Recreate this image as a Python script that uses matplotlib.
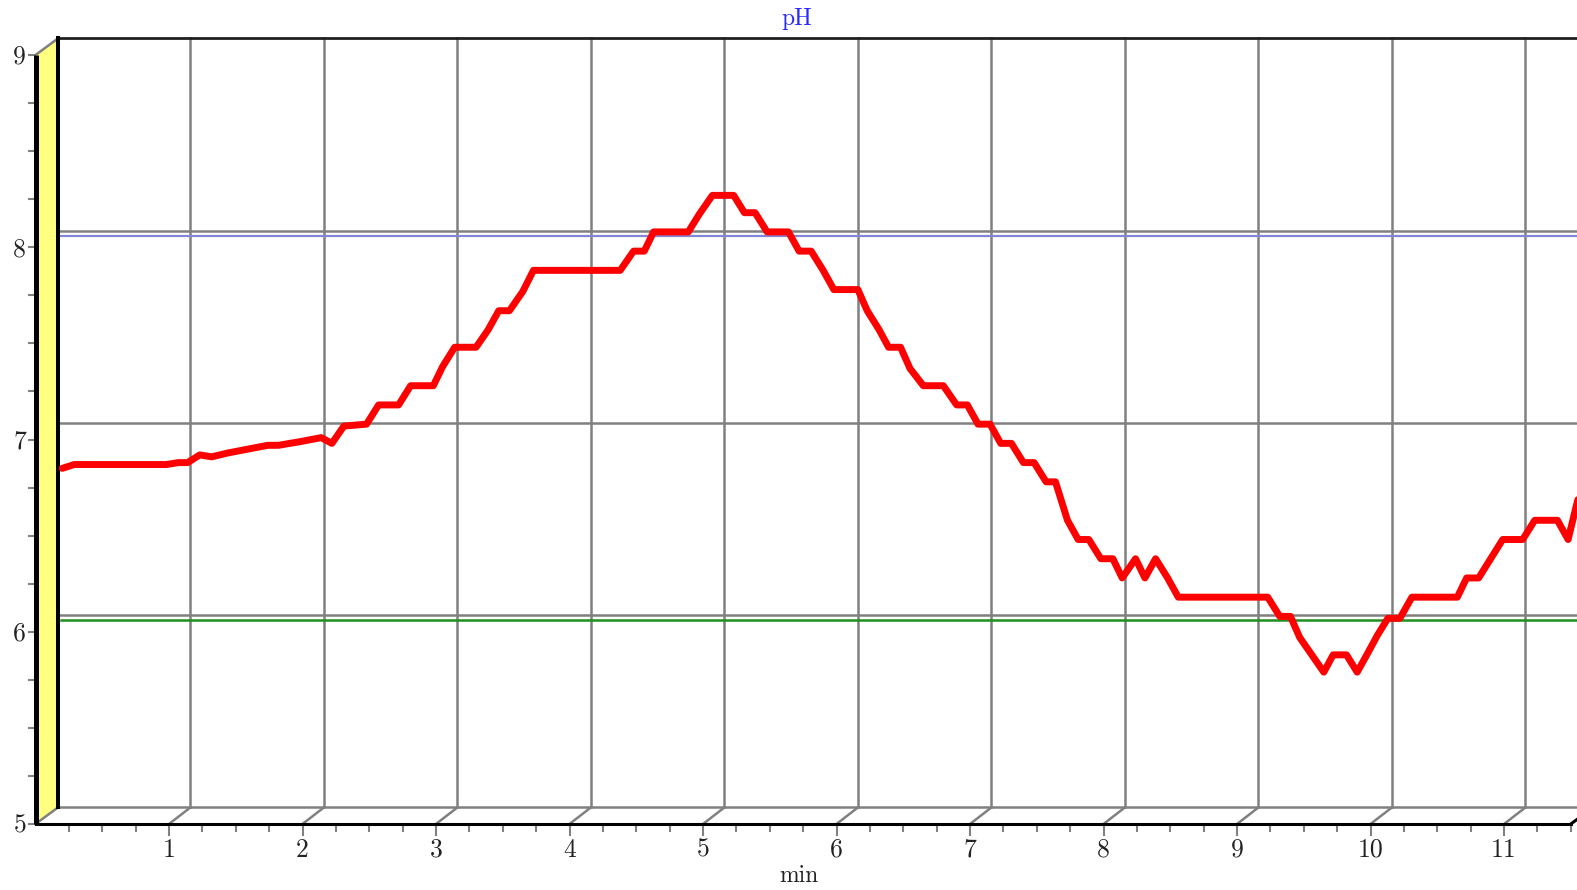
import numpy as np
import matplotlib
matplotlib.use("Agg")
import matplotlib.pyplot as plt
from matplotlib.transforms import offset_copy
from matplotlib.patches import Polygon

# pH reading over time (minutes)
time_min = [0.08, 0.17, 0.86, 0.95, 1.02, 1.11, 1.20, 1.32, 1.62, 1.70, 1.87, 2.02, 2.10,
            2.19, 2.36, 2.45, 2.60, 2.69, 2.86, 2.93, 3.02, 3.18, 3.27, 3.35, 3.43, 3.53,
            3.61, 4.26, 4.36, 4.44, 4.51, 4.77, 4.85, 4.95, 5.11, 5.19, 5.27, 5.36, 5.52,
            5.60, 5.69, 5.78, 5.86, 6.04, 6.11, 6.20, 6.27, 6.36, 6.43, 6.53, 6.68, 6.78,
            6.86, 6.94, 7.03, 7.11, 7.19, 7.28, 7.36, 7.45, 7.52, 7.61, 7.69, 7.77, 7.86,
            7.95, 8.02, 8.12, 8.19, 8.27, 8.36, 8.44, 9.11, 9.20, 9.28, 9.35, 9.44, 9.53,
            9.60, 9.70, 9.78, 9.86, 9.93, 10.01, 10.10, 10.19, 10.53, 10.60, 10.69, 10.78,
            10.87, 11.02, 11.11, 11.28, 11.36, 11.43, 11.48]
ph = [6.79, 6.81, 6.81, 6.82, 6.82, 6.86, 6.85, 6.87, 6.91, 6.91, 6.93, 6.95, 6.92,
      7.01, 7.02, 7.12, 7.12, 7.22, 7.22, 7.32, 7.42, 7.42, 7.51, 7.61, 7.61, 7.71,
      7.82, 7.82, 7.92, 7.92, 8.02, 8.02, 8.11, 8.21, 8.21, 8.12, 8.12, 8.02, 8.02,
      7.92, 7.92, 7.82, 7.72, 7.72, 7.61, 7.51, 7.42, 7.42, 7.31, 7.22, 7.22, 7.12,
      7.12, 7.02, 7.02, 6.92, 6.92, 6.82, 6.82, 6.72, 6.72, 6.52, 6.42, 6.42, 6.32,
      6.32, 6.22, 6.32, 6.22, 6.32, 6.22, 6.12, 6.12, 6.02, 6.02, 5.91, 5.82, 5.73,
      5.82, 5.82, 5.73, 5.83, 5.92, 6.01, 6.01, 6.12, 6.12, 6.22, 6.22, 6.32, 6.42,
      6.42, 6.52, 6.52, 6.42, 6.62, 6.72]
upper_limit = 8.0
lower_limit = 6.0

x_ticks = list(range(1, 12))
y_ticks = [5, 6, 7, 8, 9]

XMAX = 11.5
YMIN, YMAX = 5, 9
BX, BY = 0.168, 0.086          # depth of back wall (data units)
GRAY = "#808080"
FONT = "cmr10"

fig = plt.figure(figsize=(15.77, 8.90), dpi=100)
ax = fig.add_axes([35.5 / 1577, 66 / 890, 1535.3 / 1577, 769 / 890])
ax.set_xlim(0, XMAX)
ax.set_ylim(YMIN, YMAX)
ax.axis("off")

# left yellow wall
ax.add_patch(Polygon([(0, YMIN), (0, YMAX), (BX, YMAX + BY), (BX, YMIN + BY)],
                     closed=True, fc="#FFFF80", ec="none", zorder=1, clip_on=False))

# back wall grid
for v in y_ticks[1:-1]:
    ax.plot([BX, XMAX + BX + 0.2], [v + BY, v + BY], color=GRAY, lw=1.8, zorder=2, clip_on=False)
ax.plot([BX, XMAX + BX + 0.2], [YMIN + BY, YMIN + BY], color=GRAY, lw=1.8, zorder=2, clip_on=False)
ax.plot([BX, XMAX + BX + 0.2], [YMAX + BY, YMAX + BY], color="#202020", lw=2.0, zorder=3, clip_on=False)
for t in x_ticks:
    ax.plot([t + BX - 0.008, t + BX - 0.008], [YMIN + BY, YMAX + BY], color=GRAY, lw=1.8,
            zorder=2, clip_on=False)
    ax.plot([t, t + BX - 0.008], [YMIN, YMIN + BY], color=GRAY, lw=1.8, zorder=2, clip_on=False)
ax.plot([0, BX], [YMIN, YMIN + BY], color=GRAY, lw=1.8, zorder=4, clip_on=False)
ax.plot([0, BX], [YMAX, YMAX + BY], color=GRAY, lw=1.8, zorder=4, clip_on=False)
ax.plot([BX, BX], [YMIN + BY, YMAX + BY], color="black", lw=2.9, zorder=4, clip_on=False)

# front axes
ax.plot([0, 0], [YMIN, YMAX], color="black", lw=3.6, zorder=5, clip_on=False,
        solid_capstyle="butt")
ax.plot([0, XMAX], [YMIN, YMIN], color="black", lw=2.2, zorder=5, clip_on=False)
ax.plot([XMAX, XMAX + BX], [YMIN, YMIN + BY], color="black", lw=2.2, zorder=5, clip_on=False)

# ticks
for k in range(1, 47):
    t = k * 0.25
    ln = 0.057 if k % 4 == 0 else 0.036
    ax.plot([t, t], [YMIN - 0.006, YMIN - ln], color=GRAY, lw=1.5, zorder=4, clip_on=False)
for k in range(0, 17):
    v = YMIN + k * 0.25
    ax.plot([-0.045, -0.014], [v, v], color=GRAY, lw=1.5, zorder=4, clip_on=False)

# tick labels
for t in x_ticks:
    ax.text(t, YMIN - 0.17, str(t), ha="center", va="baseline", fontsize=18.5,
            family=FONT, color="#222222", clip_on=False)
for v in y_ticks:
    ax.text(-0.07, v - 0.01, str(v), ha="right", va="center", fontsize=18.5,
            family=FONT, color="#222222", clip_on=False)
ax.text(5.72, YMIN - 0.30, "min", ha="center", va="baseline", fontsize=17,
        family=FONT, color="#222222", clip_on=False)
ax.text(5.70, YMAX + 0.155, "pH", ha="center", va="baseline", fontsize=17,
        family=FONT, color="#2a2aff", clip_on=False)

# series plane sits inside the box
trans_s = offset_copy(ax.transData, fig=fig, x=16, y=11.5, units="dots")
ax.plot([0.07, XMAX], [upper_limit, upper_limit], color="#8585d6", lw=1.6,
        transform=trans_s, zorder=6, clip_on=False)
ax.plot([0.07, XMAX], [lower_limit, lower_limit], color="#1f8f1f", lw=1.8,
        transform=trans_s, zorder=6, clip_on=False)
ax.plot(time_min, ph, color="#FF0000", lw=5.0, transform=trans_s, zorder=7,
        solid_joinstyle="round", solid_capstyle="round", clip_on=False)

fig.savefig("out.png", dpi=100)
